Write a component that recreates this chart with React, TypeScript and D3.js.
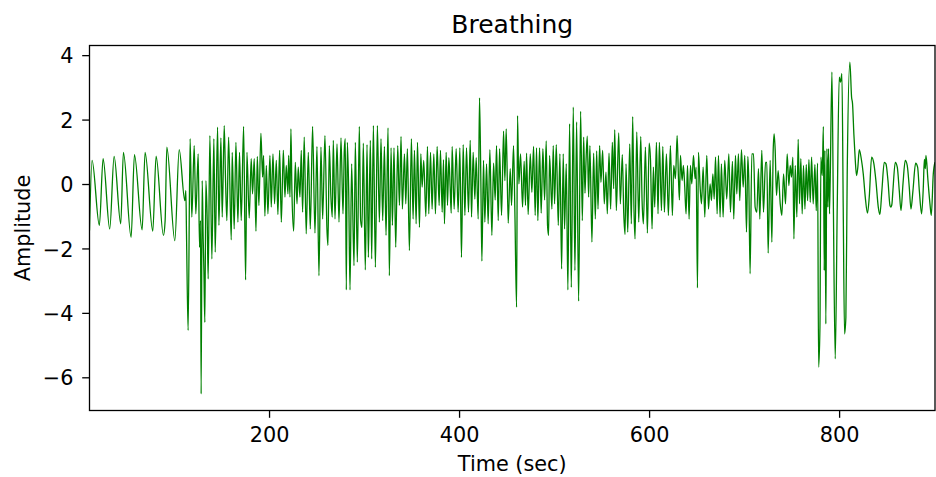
import React from 'react';
import * as d3 from 'd3';

const timeSec: number[] = [
  10.5, 13.2, 20.9, 24.8, 31.8, 36.4, 43.4, 46.2, 54.3, 57.8, 65.9, 69.0, 77.1, 80.6, 88.3, 90.1, 91.9, 100.3, 104.9, 110.8, 111.9, 112.6, 114.3, 116.4,
  118.2, 120.7, 122.4, 124.9, 126.3, 127.3, 128.0, 129.1, 130.2, 130.9, 131.9, 133.0, 134.4, 135.4, 137.2, 139.3, 141.4, 142.8, 145.3, 146.7, 148.8, 150.2,
  152.3, 153.7, 155.1, 156.9, 159.7, 160.7, 162.8, 164.6, 166.7, 168.4, 170.2, 172.7, 174.8, 176.2, 178.6, 180.7, 182.1, 183.9, 185.7, 187.1, 188.8, 190.9,
  192.7, 193.7, 195.1, 196.6, 198.3, 200.4, 201.8, 203.6, 205.3, 207.1, 208.8, 210.6, 212.4, 214.5, 216.2, 217.6, 219.4, 220.1, 221.5, 222.5, 223.6, 225.4,
  227.1, 228.9,
  230.2, 232.0, 233.4, 234.8, 236.5, 238.6, 240.8, 242.9, 245.3, 247.8, 249.9, 252.0, 254.1, 255.9, 258.3, 260.4, 261.5, 262.9, 264.6, 266.0, 267.1, 268.9,
  271.0, 273.1, 275.2, 277.3, 278.7, 279.7, 280.8, 281.9, 283.3, 284.7, 286.4, 288.9, 290.3, 292.4, 294.5, 295.9, 297.3, 298.7, 300.8, 302.6, 304.0, 306.1,
  307.5, 309.3, 311.4, 313.5, 315.6, 317.3, 319.1, 320.9, 322.6, 324.7, 326.1, 327.9, 329.3, 331.0, 332.8, 334.9, 336.7, 338.4, 339.8,
  342.0, 343.4, 345.1, 347.2, 349.3, 351.1, 352.5, 354.3, 355.7, 357.8, 359.2, 360.6, 362.3, 364.5, 366.2, 367.6, 369.4, 371.1, 372.9, 374.6, 376.4, 378.5,
  379.9, 381.7, 383.1, 384.1, 385.9, 387.3, 388.7, 390.1, 391.2, 392.2, 394.3, 396.4, 398.5, 400.3, 402.0, 403.8, 405.6, 407.3, 409.4, 411.2, 412.6, 414.3,
  416.1, 417.5, 419.6, 421.0, 422.4, 423.5, 425.2, 426.6, 428.4, 430.1, 431.9, 434.0, 435.8, 437.5, 438.9, 440.7, 442.1, 444.2, 446.3, 447.7, 449.1, 451.2,
  453.3, 454.7, 456.8, 458.2, 460.0, 461.0, 462.4, 464.2, 466.3, 468.0, 469.4, 470.5, 472.2, 474.4, 476.1, 477.9, 479.6, 481.0, 482.4, 484.2, 485.9, 487.7,
  489.5, 491.2, 492.6, 493.7, 494.7, 497.2, 498.6, 500.0, 501.8, 503.9, 505.6, 507.4, 509.1, 510.5, 512.3, 514.0, 515.8, 517.6, 519.7, 521.4, 523.2, 525.3,
  527.4, 529.2, 530.6, 532.0, 533.0, 534.4, 535.8, 537.2, 539.3, 541.1, 542.9, 544.3, 545.7, 547.4, 548.8, 550.6, 552.3, 554.1, 555.5, 557.3, 559.0, 560.8,
  562.2, 563.3, 565.0, 567.5, 569.2, 571.3, 572.8, 574.2, 575.2, 577.0, 579.1, 580.8, 582.2, 583.6, 584.7, 586.5, 588.6, 590.7, 592.1, 593.5, 595.6, 597.7,
  599.5, 600.9, 602.6, 604.0, 605.4, 607.2, 608.9, 610.3, 612.5, 613.9, 615.6, 617.7, 619.8, 621.9, 624.0, 625.4, 627.2, 629.0, 630.4, 631.4, 632.5, 634.2,
  635.6, 637.0, 638.4, 639.9, 641.6, 643.0, 644.4, 646.2, 647.9, 649.0, 650.4, 651.4, 653.2, 654.6, 656.4, 658.1, 660.2, 662.0, 663.7, 665.1, 666.6, 668.0,
  669.4, 671.1,
  672.5, 674.2, 675.6, 677.4, 679.1, 681.2, 683.4, 685.1, 687.2, 688.6, 690.4, 691.8, 693.5, 694.9, 696.7, 698.5, 700.2, 702.0, 703.4, 704.4, 705.8, 707.6,
  709.4, 711.1, 712.9, 714.6, 716.0, 718.1, 719.9, 722.0, 723.4, 724.8, 726.9, 728.7, 730.1, 731.1, 732.2, 733.6, 735.3, 737.5, 739.2, 741.0, 743.1, 744.8,
  746.6, 748.0, 749.4, 750.8, 751.9, 753.3, 755.0, 756.4, 757.8, 759.2, 760.6, 762.0, 763.5, 764.9, 766.3, 767.7, 769.1, 770.5, 772.2, 774.0, 775.4, 776.8,
  777.9, 779.3, 780.3, 781.7, 782.9,
  783.8, 784.5, 785.5, 786.6, 787.6, 788.3, 789.4, 791.9, 793.3, 795.4, 797.5, 799.6, 801.0, 802.4, 803.8, 805.2, 806.6, 808.0, 810.8, 812.6, 813.6, 815.0,
  816.4, 817.8, 819.2, 820.7, 822.8, 824.9, 827.0, 829.4, 831.2, 833.7, 836.1, 838.2, 840.7, 842.4, 844.5, 847.0, 848.8, 850.9, 853.0, 854.0, 855.1, 856.1,
  858.6, 860.7, 862.8, 864.6, 866.7, 869.1, 871.2, 873.3, 875.1, 877.2, 880.0, 882.1, 883.9, 886.3, 888.1, 889.2, 890.2, 890.9, 893.0, 895.1, 896.5, 898.6,
  900.4,
];

const amplitude: number[] = [
  -1.43, 0.75, -1.27, 0.80, -1.38, 0.87, -1.22, 1.00, -1.64, 0.93, -1.41, 1.00, -1.45, 0.88, -1.58, -1.12, 1.16, -1.74, 1.08, -0.50, -0.19, -1.53, -4.53, 1.42,
  -1.01, 1.21, -0.91, 0.95, -1.95, -1.12, -6.50, 0.12, -1.74, -2.67, -4.28, 0.12, -1.12, -2.93, 1.52, -2.31, 1.42, -2.10, 1.78, -1.27, 1.45, -1.01,
  1.83, 0.12, -1.12, 1.47, -1.72, 1.00, -1.38, 1.31, -1.17, 1.00, -1.12, 1.80, -2.96, 1.00, -1.04, 0.80, -0.29, 0.80, -1.45, 0.87, -0.65, 1.59,
  0.23, 0.90, -0.98, 0.59, -0.91, 0.90, -0.70, 0.95, -0.60, 0.75, -0.93, 1.06, -1.17, 1.06, -0.39, 0.59, -0.29, 0.90, -0.39, 1.73, -0.29, -1.45,
  0.69, -0.60,
  0.54, -0.39, 1.06, -0.86, 1.47, -1.53, 1.00, -1.38, 1.80, -1.51, 1.18, -2.83, 1.16, -1.07, 1.52, -1.38, -1.89, 1.21, -0.39, -1.01, 1.37, -1.07,
  1.26, -1.17, 1.45, -0.91, 1.06, 1.42, -3.27, 1.31, -0.19, -3.27, 0.64, -2.52, 1.31, -2.41, 1.80, -1.12, -1.33, 1.28, -2.65, 1.24, -2.26, 1.37,
  -2.31, 1.83, -2.57, 1.83, -1.17, 1.42, -1.12, 1.18, -1.58, 1.76, -2.83, 1.14, -1.27, 1.14, -1.95, 1.21, -0.65, 1.49, -0.76,
  0.95, -0.60, 1.11, -2.05, 1.42, -1.07, 1.06, -1.22, 1.31, -1.33, 0.95, -0.08, 0.75, -0.99, 1.18, -0.91, 1.00, -0.76, 0.95, -0.91, 1.18, -0.65,
  1.06, -0.86, 0.77, -1.22, 1.00, -0.65, 0.83, -0.08, -0.89, 1.18, -0.76, 1.11, -0.86, 1.14, -2.26, 1.24, -0.96, 1.14, -0.86, 1.37, -1.01, 1.00,
  -0.45, 0.83, -1.07, 2.69, 0.12, -2.38, 0.75, -1.17, 0.64, -1.22, 1.08, -1.58, 0.66, -0.48, 1.21, -1.12, 1.11, -0.96, 1.66, 0.12, 1.73, -1.20,
  0.49, -0.65, 1.21, -0.81, -3.81, 2.14, 0.02, 0.95, -0.70, 0.72, -0.65, 0.97, -0.93, 0.95, -0.24, 1.18, -0.96, 1.14, -1.12, 1.14, -0.89, 1.11,
  -0.48, 1.35, -1.27, -1.58, 0.90, -0.76, 1.21, -0.60, 1.24, -1.27, 0.95, -2.62, 0.95, -1.38, 0.64, -3.27, 1.88, -3.19, 2.40, -2.67, 1.94, -3.62,
  2.27, -1.12, 1.47, -0.27, 0.64, 1.50, -0.39, 1.21, -1.79, 0.97, -1.07, 1.04, -0.76, 1.21, 0.07, 1.06, -0.60, 0.38, -0.91, 0.97, -0.76, 1.31,
  -0.13, 1.70, -0.81, 1.60, -0.60, 0.93, -0.89, -1.55, 0.64, -1.48, 1.26, -1.22, 2.11, -0.81, -1.69, 1.63, -1.17, 1.49, -0.50, -1.22, 1.16, -1.51,
  1.28, 0.80, -1.38, 0.54, -0.70, 1.31, -0.91, 1.31, -0.81, 1.18, -0.86, 0.95, -0.96, 1.21, -0.96, 0.59, 0.18, 1.52, 0.18, -0.48, 0.90, 0.12,
  0.59, -0.08, -0.91, 0.59, -1.07, 0.59, 0.02, 0.90, 0.18, 0.54, -3.21, 1.00, -0.08, -0.60, 0.54, -1.01, 0.90, -0.76, 0.02, -0.50, 0.33, -0.45,
  0.85, -0.91,
  0.90, -1.01, 0.64, -1.01, 0.75, -0.45, 0.95, -0.86, 0.72, -1.07, 0.90, -0.29, 0.95, -0.50, 1.08, -0.08, 0.90, -1.48, 0.87, 0.12, -2.77, 0.95,
  0.95, -0.70, -0.86, 0.49, -1.07, 1.06, -0.86, 0.69, 0.69, -2.13, 0.75, -1.79, 1.06, 1.57, 1.06, -0.34, 0.43, -0.60, -0.96, 0.33, -0.60, 0.95,
  -0.03, 0.59, 0.23, 0.85, -1.69, 0.59, -1.01, 1.40, -0.60, 0.80, -0.91, 0.59, -0.76, 0.62, -0.50, 0.77, -0.55, 0.85, -0.60, 0.62, -0.81, 0.66,
  -5.67, -4.43, 0.85, 0.28, 1.80,
  -2.67, 1.06, -4.33, 1.11, -0.70, 1.11, -0.91, 3.49, -0.29, -5.41, -0.70, 3.33, 3.18, 3.44, -0.70, -4.64, -4.12, 0.33, 3.80, 2.71, 2.51, 1.57,
  0.80, 0.28, 0.54, 1.08, 0.80, 0.33, -0.39, -0.89, -0.39, 0.85, 0.64, 0.12, -0.70, -0.93, -0.19, 0.69, 0.64, 0.12, -0.65, -0.70, -0.60, -0.19,
  0.69, 0.54, -0.19, -0.81, 0.02, 0.75, 0.59, -0.08, -0.76, -0.19, 0.66, 0.54, -0.19, -0.91, -0.08, 0.78, 0.49, 0.90, 0.12, -0.60, -0.96, 0.33,
  0.69,
];

const xTicks = [200, 400, 600, 800];
const yTicks = [-6, -4, -2, 0, 2, 4];
const titleText = 'Breathing';
const xLabelText = 'Time (sec)';
const yLabelText = 'Amplitude';

const FONT = '"DejaVu Sans", Verdana, sans-serif';

export default function App() {
  const W = 936;
  const H = 477;
  const left = 89.5;
  const right = 935;
  const top = 45.5;
  const bottom = 410.5;

  const n = Math.min(timeSec.length, amplitude.length);
  const data: [number, number][] = [];
  for (let i = 0; i < n; i++) data.push([timeSec[i], amplitude[i]]);

  const xExt = d3.extent(data, (d) => d[0]) as [number, number];
  const yExt = d3.extent(data, (d) => d[1]) as [number, number];
  const pad = (yExt[1] - yExt[0]) * 0.05;

  const x = d3.scaleLinear().domain(xExt).range([left, right]);
  const y = d3.scaleLinear().domain([yExt[0] - pad, yExt[1] + pad]).range([bottom, top]);

  const line = d3
    .line<[number, number]>()
    .x((d) => x(d[0]))
    .y((d) => y(d[1]))
    .curve(d3.curveMonotoneX);

  const fmt = (v: number) => (v < 0 ? '\u2212' + Math.abs(v) : String(v));

  return (
    <svg
      width={W}
      height={H}
      style={{ position: 'absolute', left: 0, top: 0, background: '#fff' }}
      fontFamily={FONT}
    >
      <defs>
        <clipPath id="plotClip">
          <rect x={left} y={top} width={right - left} height={bottom - top} />
        </clipPath>
      </defs>
      <rect x={0} y={0} width={W} height={H} fill="#fff" />
      <path
        d={line(data) || ''}
        fill="none"
        stroke="#008000"
        strokeWidth={1.3}
        strokeLinejoin="round"
        clipPath="url(#plotClip)"
      />
      <rect
        x={left}
        y={top}
        width={right - left}
        height={bottom - top}
        fill="none"
        stroke="#000"
        strokeWidth={1.3}
      />
      {xTicks.map((t) => (
        <g key={'x' + t}>
          <line x1={x(t)} x2={x(t)} y1={bottom} y2={bottom + 7.3} stroke="#000" strokeWidth={1.3} />
          <text x={x(t)} y={442} textAnchor="middle" fontSize={20.8} fill="#000">
            {fmt(t)}
          </text>
        </g>
      ))}
      {yTicks.map((t) => (
        <g key={'y' + t}>
          <line x1={left - 7.3} x2={left} y1={y(t)} y2={y(t)} stroke="#000" strokeWidth={1.3} />
          <text x={73.5} y={y(t) + 7.6} textAnchor="end" fontSize={20.8} fill="#000">
            {fmt(t)}
          </text>
        </g>
      ))}
      <text x={(left + right) / 2} y={33} textAnchor="middle" fontSize={25} fill="#000">
        {titleText}
      </text>
      <text x={(left + right) / 2} y={471} textAnchor="middle" fontSize={20.8} fill="#000">
        {xLabelText}
      </text>
      <text
        transform={`translate(30, ${(top + bottom) / 2}) rotate(-90)`}
        textAnchor="middle"
        fontSize={20.8}
        fill="#000"
      >
        {yLabelText}
      </text>
    </svg>
  );
}
